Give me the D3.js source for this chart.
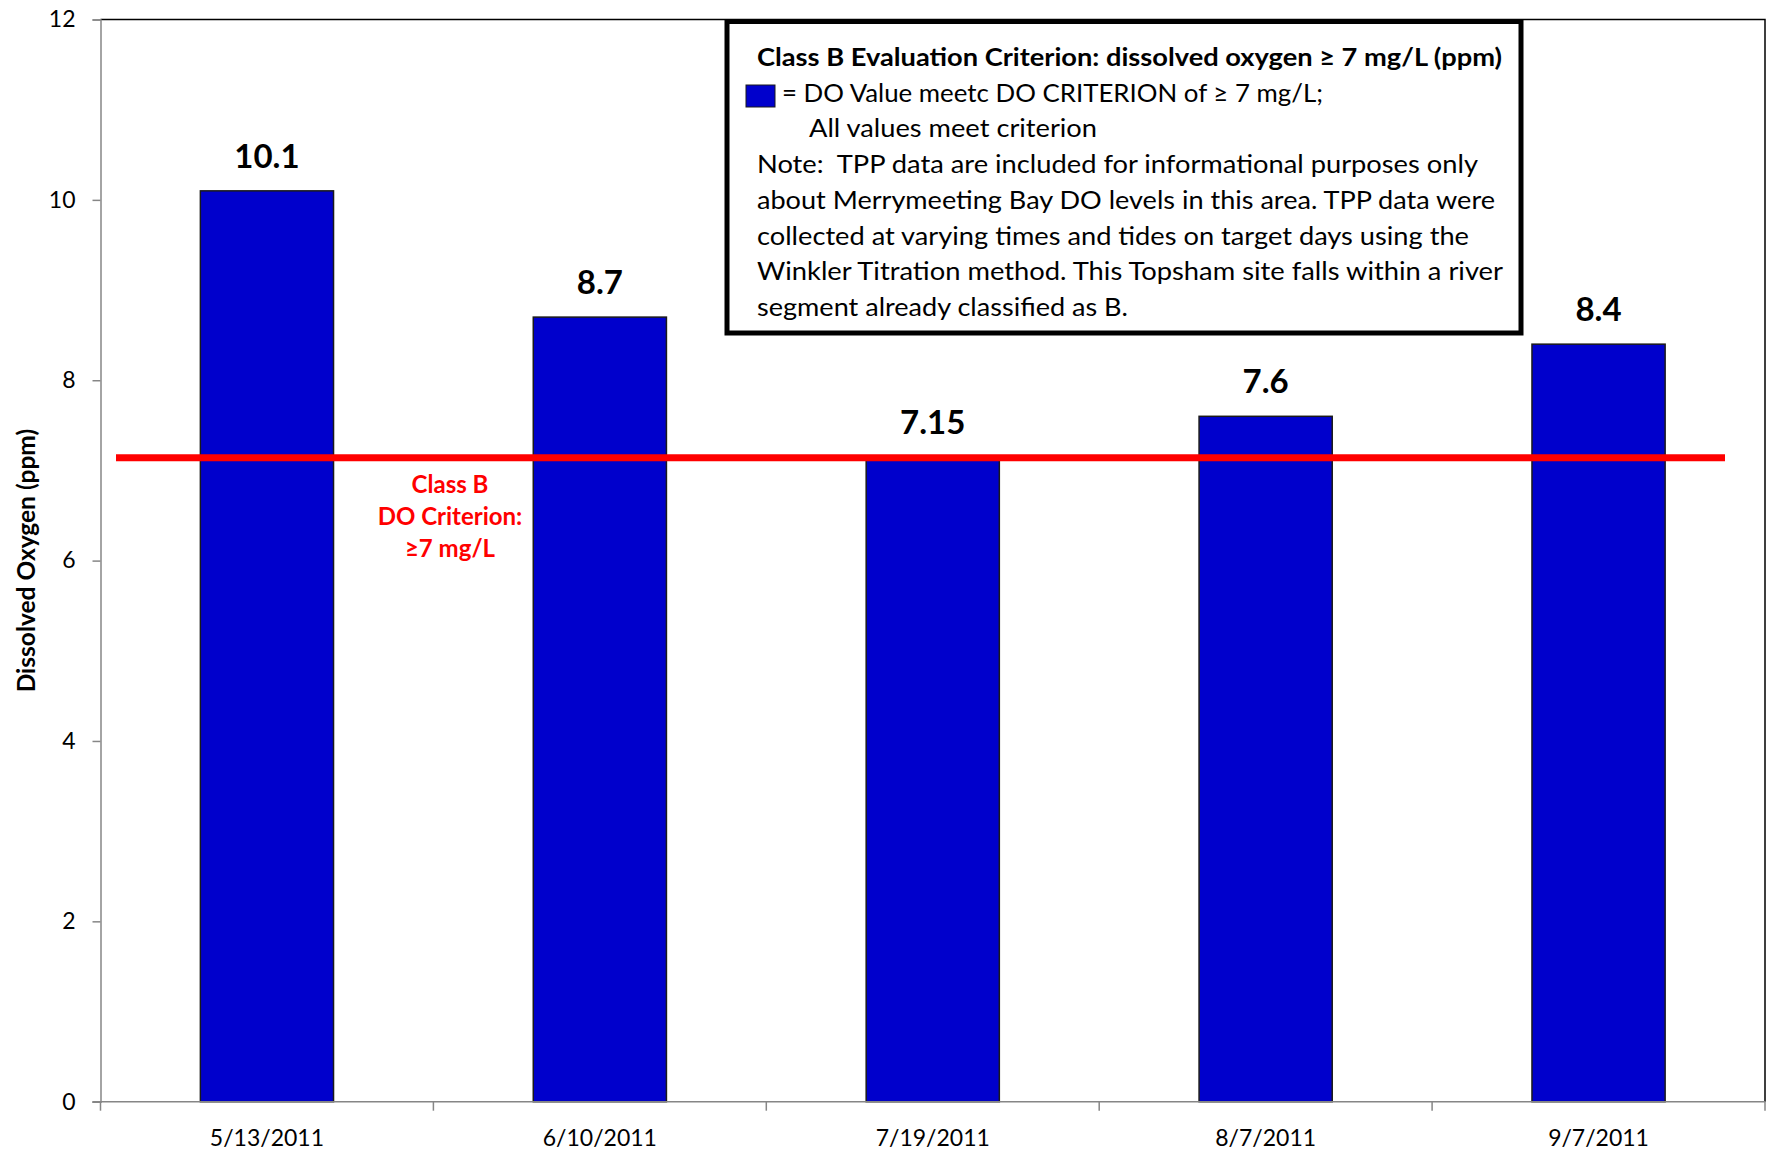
<!DOCTYPE html>
<html>
<head>
<meta charset="utf-8">
<script src="https://cdn.jsdelivr.net/npm/d3@7"></script>
<style>
  html, body { margin: 0; padding: 0; background: #fff; }
  svg { display: block; }
  text { font-family: Lato, "Open Sans", sans-serif; }
</style>
</head>
<body>
<script>
const categories = ["5/13/2011", "6/10/2011", "7/19/2011", "8/7/2011", "9/7/2011"];
const doValues = [10.1, 8.7, 7.15, 7.6, 8.4];
const valueLabels = ["10.1", "8.7", "7.15", "7.6", "8.4"];
const criterionValue = 7.14;
const yTicks = [0, 2, 4, 6, 8, 10, 12];
const criterionLabel = ["Class B", "DO Criterion:", "\u22657 mg/L"];
const legendTitle = "Class B Evaluation Criterion: dissolved oxygen \u2265 7 mg/L (ppm)";
const legendSwatchText = "= DO Value meetc DO CRITERION of \u2265 7 mg/L;";
const legendLines = [
  "All values meet criterion",
  "Note:  TPP data are included for informational purposes only",
  "about Merrymeeting Bay DO levels in this area. TPP data were",
  "collected at varying times and tides on target days using the",
  "Winkler Titration method. This Topsham site falls within a river",
  "segment already classified as B."
];
const yTitle = "Dissolved Oxygen (ppm)";

// layout (pixel widths of legend text lines, to mimic the original typeface)
const titleWidth = 745, swatchTextWidth = 541;
const lineWidths = [288, 721, 738, 712, 746, 371];

const W = 1771, H = 1152;
const plot = { left: 100.5, right: 1765, top: 19.5, bottom: 1101.7 };
const axisGrey = "#868686";

const svg = d3.select("body").append("svg").attr("width", W).attr("height", H);

const x = d3.scaleBand().domain(categories).range([plot.left, plot.right])
  .paddingInner(0.6).paddingOuter(0.3);
const y = d3.scaleLinear().domain([0, 12]).range([plot.bottom, plot.top]);
const step = x.step(), bw = x.bandwidth();

// top and right border
svg.append("path")
  .attr("d", `M${plot.left},${plot.top}H${plot.right}V${plot.bottom}`)
  .attr("fill", "none").attr("stroke", "#000").attr("stroke-width", 1.5);

// bars
svg.append("g").selectAll("rect").data(categories).join("rect")
  .attr("x", (d) => x(d))
  .attr("y", (d, i) => y(doValues[i]))
  .attr("width", bw)
  .attr("height", (d, i) => y(0) - y(doValues[i]))
  .attr("fill", "#0000CC")
  .attr("stroke", "#1a1a1a")
  .attr("stroke-width", 1.5);

// value labels
svg.append("g").selectAll("text").data(categories).join("text")
  .attr("x", (d) => x(d) + bw / 2)
  .attr("y", (d, i) => y(doValues[i]) - 23)
  .attr("text-anchor", "middle")
  .attr("font-weight", "bold")
  .attr("font-size", 33)
  .attr("fill", "#000")
  .text((d, i) => valueLabels[i]);

// y axis
const yAxis = d3.axisLeft(y).tickValues(yTicks).tickSize(8).tickPadding(17).tickFormat(d3.format("d"));
const gy = svg.append("g").attr("transform", `translate(${plot.left},0)`).call(yAxis);
gy.select(".domain").attr("stroke", axisGrey).attr("stroke-width", 1.5);
gy.selectAll(".tick line").attr("stroke", axisGrey).attr("stroke-width", 1.5);
gy.selectAll(".tick text").attr("font-size", 23).attr("fill", "#000")
  .attr("font-family", "Lato, sans-serif");

// x axis (labels centered, ticks on category boundaries)
const xAxis = d3.axisBottom(x).tickSize(0).tickPadding(28);
const gx = svg.append("g").attr("transform", `translate(0,${plot.bottom})`).call(xAxis);
gx.select(".domain").remove();
gx.selectAll(".tick text").attr("font-size", 23).attr("fill", "#000")
  .attr("font-family", "Lato, sans-serif");
svg.append("line")
  .attr("x1", plot.left - 8).attr("x2", plot.right)
  .attr("y1", plot.bottom).attr("y2", plot.bottom)
  .attr("stroke", axisGrey).attr("stroke-width", 1.5);
const bounds = categories.map((d) => x(d) + bw / 2 - step / 2).concat([x(categories[categories.length - 1]) + bw / 2 + step / 2]);
svg.append("g").selectAll("line").data(bounds).join("line")
  .attr("x1", (d) => d).attr("x2", (d) => d)
  .attr("y1", plot.bottom).attr("y2", plot.bottom + 9)
  .attr("stroke", axisGrey).attr("stroke-width", 1.5);

// y title
svg.append("text")
  .attr("transform", `translate(35,${y(6)}) rotate(-90)`)
  .attr("text-anchor", "middle")
  .attr("font-weight", "bold")
  .attr("font-size", 24.5)
  .attr("fill", "#000")
  .text(yTitle);

// criterion line
svg.append("line")
  .attr("x1", 116).attr("x2", 1725)
  .attr("y1", y(criterionValue)).attr("y2", y(criterionValue))
  .attr("stroke", "#FF0000").attr("stroke-width", 7);

// criterion label
svg.append("g").selectAll("text").data(criterionLabel).join("text")
  .attr("x", 450)
  .attr("y", (d, i) => 493 + i * 31.8)
  .attr("text-anchor", "middle")
  .attr("font-weight", "bold")
  .attr("font-size", 24)
  .attr("fill", "#FF0000")
  .text((d) => d);

// legend box
const lg = svg.append("g");
lg.append("rect")
  .attr("x", 727).attr("y", 21.5).attr("width", 794).attr("height", 311.5)
  .attr("fill", "#fff").attr("stroke", "#000").attr("stroke-width", 5);
lg.append("text")
  .attr("x", 757).attr("y", 65.5)
  .attr("font-weight", "bold").attr("font-size", 25.5).attr("fill", "#000")
  .attr("textLength", titleWidth).attr("lengthAdjust", "spacingAndGlyphs")
  .text(legendTitle);
lg.append("rect")
  .attr("x", 746).attr("y", 85).attr("width", 29).attr("height", 22)
  .attr("fill", "#0000CC").attr("stroke", "#1a1a1a").attr("stroke-width", 1);
lg.append("text")
  .attr("x", 782).attr("y", 101.5)
  .attr("font-size", 25.5).attr("fill", "#000")
  .attr("textLength", swatchTextWidth).attr("lengthAdjust", "spacingAndGlyphs")
  .text(legendSwatchText);
lg.selectAll("text.ln").data(legendLines).join("text")
  .attr("class", "ln")
  .attr("x", (d, i) => i === 0 ? 809 : 757)
  .attr("y", (d, i) => 137.3 + i * 35.75)
  .attr("font-size", 25.5).attr("fill", "#000")
  .attr("textLength", (d, i) => lineWidths[i]).attr("lengthAdjust", "spacingAndGlyphs")
  .style("white-space", "pre")
  .text((d) => d);
</script>
</body>
</html>
